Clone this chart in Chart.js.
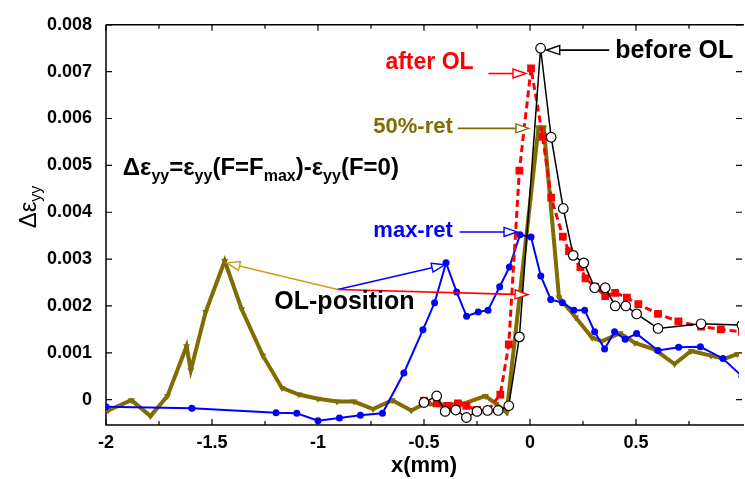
<!DOCTYPE html>
<html>
<head>
<meta charset="utf-8">
<script src="https://cdn.jsdelivr.net/npm/chart.js@4.4.1/dist/chart.umd.min.js"></script>
<style>
html,body{margin:0;padding:0;background:#fff;}
#wrap{width:745px;height:479px;position:relative;}
</style>
</head>
<body>
<div id="wrap"><canvas id="c" width="745" height="479"></canvas></div>
<script>
// ---------- data ----------
const xTicks = [-2,-1.75,-1.5,-1.25,-1,-0.75,-0.5,-0.25,0,0.25,0.5,0.75,1];
const xTickLabels = ['-2','','-1.5','','-1','','-0.5','','0','','0.5','','1'];
const yTicks = [0,0.001,0.002,0.003,0.004,0.005,0.006,0.007,0.008];
const yTickLabels = ['0','0.001','0.002','0.003','0.004','0.005','0.006','0.007','0.008'];

const beforeX = [-0.50,-0.44,-0.40,-0.35,-0.30,-0.25,-0.20,-0.15,-0.10,-0.05,0.05,0.10,0.157,0.204,0.254,0.305,0.355,0.402,0.452,0.503,0.604,0.807,1.00];
const beforeY = [-0.00006,0.00008,-0.00025,-0.00022,-0.00038,-0.00025,-0.00023,-0.00023,-0.00013,0.00134,0.00750,0.00560,0.00408,0.00308,0.00292,0.00239,0.00239,0.00200,0.00200,0.00183,0.00152,0.00162,0.00159];

const afterX = [-0.50,-0.44,-0.39,-0.34,-0.30,-0.25,-0.20,-0.14,-0.10,-0.05,0.005,0.06,0.10,0.155,0.184,0.238,0.262,0.308,0.355,0.402,0.457,0.511,0.604,0.70,0.807,0.90,1.00];
const afterY = [-0.00002,-0.00008,-0.00013,-0.00008,-0.00013,-0.00022,-0.00024,0.00011,0.00118,0.00489,0.00707,0.00561,0.00431,0.00348,0.00317,0.00283,0.00259,0.00241,0.00221,0.00228,0.00218,0.00204,0.00183,0.00167,0.00156,0.00150,0.00145];

const ret50X = [-1.99,-1.88,-1.79,-1.71,-1.62,-1.60,-1.53,-1.44,-1.36,-1.26,-1.17,-1.09,-1.00,-0.91,-0.83,-0.74,-0.65,-0.56,-0.50,-0.42,-0.31,-0.21,-0.16,-0.11,0.04,0.065,0.137,0.215,0.293,0.34,0.425,0.495,0.589,0.682,0.76,0.854,0.916,0.978];
const ret50Y = [-0.00023,-0.00001,-0.00035,0.00008,0.00114,0.00063,0.00187,0.00296,0.00193,0.00094,0.00025,0.00011,0.00002,-0.00004,-0.00004,-0.00020,-0.00001,-0.00023,-0.00009,-0.00011,-0.00008,0.00008,-0.00009,-0.00027,0.00581,0.00581,0.00218,0.00176,0.00132,0.00125,0.00142,0.00121,0.00107,0.00076,0.00104,0.00094,0.00087,0.00097];

const maxRetX = [-2.0,-1.595,-1.198,-1.10,-1.0,-0.899,-0.80,-0.696,-0.595,-0.505,-0.45,-0.396,-0.346,-0.299,-0.244,-0.198,-0.143,-0.097,-0.047,0.005,0.051,0.098,0.153,0.207,0.258,0.305,0.352,0.399,0.449,0.503,0.604,0.701,0.804,0.91,1.0];
const maxRetY = [-0.00015,-0.00018,-0.00028,-0.00029,-0.00045,-0.00039,-0.00033,-0.00029,0.00057,0.00149,0.00207,0.00292,0.00230,0.00178,0.00187,0.00191,0.00241,0.00283,0.00352,0.00347,0.00264,0.00214,0.00207,0.00191,0.00191,0.00145,0.00108,0.00145,0.00129,0.00141,0.00105,0.00112,0.00113,0.00088,0.00050];

// ---------- annotations (data coordinates) ----------
const FONT = '"Liberation Sans", Arial, sans-serif';
const NARROW = '"Liberation Sans Narrow", "Arial Narrow", "Liberation Sans", sans-serif';
const annotTexts = [
  {text:'before OL', x:0.402, y:0.00744, align:'left', color:'#000000', size:25},
  {text:'after OL', x:-0.266, y:0.00719, align:'right', color:'#ff0000', size:23},
  {text:'50%-ret', x:-0.364, y:0.00581, align:'right', color:'#806c00', size:22},
  {text:'max-ret', x:-0.364, y:0.00360, align:'right', color:'#0000ff', size:22},
  {text:'OL-position', x:-1.206, y:0.00208, align:'left', color:'#000000', size:25}
];
const annotArrows = [
  {from:[0.374,0.00746], to:[0.079,0.00746], color:'#000000'},
  {from:[-0.196,0.00696], to:[-0.019,0.00696], color:'#ff0000'},
  {from:[-0.341,0.00579], to:[-0.005,0.00579], color:'#806c00'},
  {from:[-0.332,0.00358], to:[-0.061,0.00358], color:'#0000ff'},
  {from:[-0.907,0.00235], to:[-1.43,0.00292], color:'#c8a020'},
  {from:[-0.907,0.00235], to:[-0.402,0.00288], color:'#0000ff'},
  {from:[-0.907,0.00235], to:[-0.009,0.00224], color:'#ff0000'}
];
const formulaPos = {x:-1.921, y:0.00496};
const formulaParts = [['Δε',0],['yy',1],['=ε',0],['yy',1],['(F=F',0],['max',1],[')-ε',0],['yy',1],['(F=0)',0]];

function pts(xs, ys){ return xs.map((x,i)=>({x:x, y:ys[i]})); }

function drawArrow(ctx,x1,y1,x2,y2,color){
  const a = Math.atan2(y2-y1, x2-x1);
  const L = 13, W = 4.5;
  const bx = x2 - L*Math.cos(a), by = y2 - L*Math.sin(a);
  ctx.strokeStyle = color; ctx.lineWidth = 1.6;
  ctx.beginPath(); ctx.moveTo(x1,y1); ctx.lineTo(bx,by); ctx.stroke();
  ctx.beginPath();
  ctx.moveTo(x2,y2);
  ctx.lineTo(bx + W*Math.sin(a), by - W*Math.cos(a));
  ctx.lineTo(bx - W*Math.sin(a), by + W*Math.cos(a));
  ctx.closePath();
  ctx.fillStyle = '#ffffff'; ctx.fill();
  ctx.lineWidth = 1.4; ctx.stroke();
}

const framePlugin = {
  id:'frame',
  beforeDatasetsDraw(chart){
    const {ctx, chartArea:ca, scales:{x:xs, y:ys}} = chart;
    ctx.save();
    ctx.strokeStyle = '#000'; ctx.lineWidth = 1.5;
    ctx.beginPath();
    ctx.moveTo(ca.left, ca.top); ctx.lineTo(ca.left, ca.bottom); ctx.lineTo(ca.right+5, ca.bottom);
    ctx.moveTo(ca.left, ca.top); ctx.lineTo(ca.right+5, ca.top);
    ctx.stroke();
    ctx.lineWidth = 1.2;
    ctx.beginPath();
    xs.ticks.forEach(t=>{
      const p = xs.getPixelForValue(t.value);
      const major = Math.abs(t.value*2 - Math.round(t.value*2)) < 1e-9;
      const L = major ? 6 : 4;
      ctx.moveTo(p, ca.bottom); ctx.lineTo(p, ca.bottom - L);
      ctx.moveTo(p, ca.top); ctx.lineTo(p, ca.top + L);
    });
    ys.ticks.forEach(t=>{
      const p = ys.getPixelForValue(t.value);
      ctx.moveTo(ca.left, p); ctx.lineTo(ca.left + 6, p);
      ctx.moveTo(ca.right + 3, p); ctx.lineTo(ca.right - 3, p);
    });
    ctx.stroke();
    ctx.restore();
  },
  afterDraw(chart){
    const {ctx, chartArea:ca} = chart;
    ctx.save();
    // x title
    ctx.fillStyle = '#000';
    ctx.font = 'bold 22px ' + NARROW;
    ctx.textAlign = 'center'; ctx.textBaseline = 'middle';
    ctx.fillText('x(mm)', (ca.left + ca.right + 3)/2, 466);
    // y title with subscript
    ctx.translate(28, 207);
    ctx.rotate(-Math.PI/2);
    ctx.font = '24px ' + FONT;
    const w1 = ctx.measureText('Δε').width;
    ctx.font = '16px ' + FONT;
    const w2 = ctx.measureText('yy').width;
    const start = -(w1 + w2)/2;
    ctx.textAlign = 'left'; ctx.textBaseline = 'alphabetic';
    ctx.font = '24px ' + FONT;
    ctx.fillText('Δε', start, 8);
    ctx.font = '16px ' + FONT;
    ctx.fillText('yy', start + w1, 13);
    ctx.restore();
  }
};

const annotPlugin = {
  id:'annots',
  afterDatasetsDraw(chart){
    const {ctx, scales:{x:xs, y:ys}} = chart;
    const X = v => xs.getPixelForValue(v), Y = v => ys.getPixelForValue(v);
    ctx.save();
    annotArrows.forEach(a => drawArrow(ctx, X(a.from[0]), Y(a.from[1]), X(a.to[0]), Y(a.to[1]), a.color));
    ctx.textBaseline = 'middle';
    annotTexts.forEach(t => {
      ctx.font = 'bold ' + t.size + 'px ' + FONT;
      ctx.fillStyle = t.color; ctx.textAlign = t.align;
      ctx.fillText(t.text, X(t.x), Y(t.y));
    });
    // formula
    let cx = X(formulaPos.x); const cy = Y(formulaPos.y) + 8;
    ctx.textAlign = 'left'; ctx.textBaseline = 'alphabetic'; ctx.fillStyle = '#000';
    formulaParts.forEach(([s, sub]) => {
      ctx.font = sub ? 'bold 16px ' + FONT : 'bold 24px ' + FONT;
      ctx.fillText(s, cx, sub ? cy + 6 : cy);
      cx += ctx.measureText(s).width;
    });
    ctx.restore();
  }
};

function lookup(vals, labels, v){
  const i = vals.findIndex(t => Math.abs(t - v) < 1e-9);
  return i >= 0 ? labels[i] : '';
}

new Chart(document.getElementById('c'), {
  type: 'line',
  data: {
    datasets: [
      {label:'before OL', data:pts(beforeX,beforeY), borderColor:'#000000', borderWidth:1.5,
       pointStyle:'circle', pointRadius:4.8, pointBackgroundColor:'#ffffff', pointBorderColor:'#000000', pointBorderWidth:1.2, tension:0, fill:false},
      {label:'after OL', data:pts(afterX,afterY), borderColor:'#ff0000', borderWidth:3, borderDash:[7,4],
       pointStyle:'rect', pointRadius:5.5, pointBackgroundColor:'#ff0000', pointBorderColor:'#ff0000', pointBorderWidth:0, tension:0, fill:false},
      {label:'max-ret', data:pts(maxRetX,maxRetY), borderColor:'#0000ff', borderWidth:2,
       pointStyle:'circle', pointRadius:3.5, pointBackgroundColor:'#0000ff', pointBorderColor:'#0000ff', pointBorderWidth:0, tension:0, fill:false},
      {label:'50%-ret', data:pts(ret50X,ret50Y), borderColor:'#806c00', borderWidth:4,
       pointStyle:'triangle', rotation:180, pointRadius:4, pointBackgroundColor:'#806c00', pointBorderColor:'#806c00', pointBorderWidth:0, tension:0, fill:false}
    ]
  },
  options: {
    responsive:false, animation:false, devicePixelRatio:1,
    layout:{padding:{top:11, left:0, right:0, bottom:0}},
    plugins:{legend:{display:false}, tooltip:{enabled:false}},
    scales:{
      x:{type:'linear', min:-2, max:0.986,
         afterBuildTicks:s => { s.ticks = xTicks.filter(v => v >= s.min - 1e-9 && v <= s.max + 1e-9).map(v => ({value:v})); },
         afterFit:s => { s.height = 54; },
         grid:{display:false, drawTicks:false}, border:{display:false},
         ticks:{autoSkip:false, maxRotation:0, padding:7, color:'#000',
                font:{family:NARROW, size:18, weight:'bold'},
                callback:v => lookup(xTicks, xTickLabels, v)}},
      y:{type:'linear', min:-0.00054, max:0.008,
         afterBuildTicks:s => { s.ticks = yTicks.map(v => ({value:v})); },
         afterFit:s => { s.width = 106; },
         grid:{display:false, drawTicks:false}, border:{display:false},
         ticks:{autoSkip:false, padding:14, color:'#000',
                font:{family:NARROW, size:18, weight:'bold'},
                callback:v => lookup(yTicks, yTickLabels, v)}}
    }
  },
  plugins:[framePlugin, annotPlugin]
});
</script>
</body>
</html>
